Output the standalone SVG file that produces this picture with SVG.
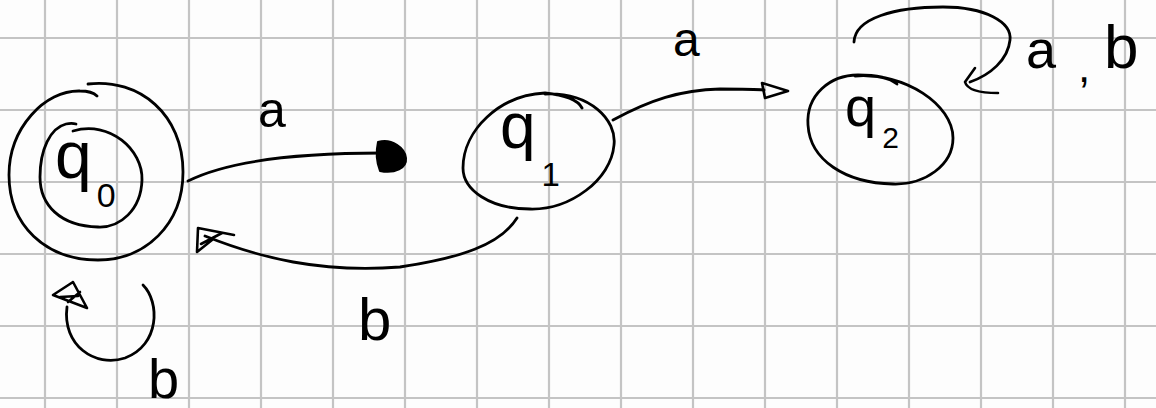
<svg xmlns="http://www.w3.org/2000/svg" width="1156" height="408" viewBox="0 0 1156 408">
  <style>
    .grid line { stroke: #c4c4c4; stroke-width: 2.2; }
    .ink { fill: none; stroke: #000; stroke-width: 2.8; stroke-linecap: round; stroke-linejoin: round; }
    .head { fill: none; stroke: #000; stroke-width: 2.6; stroke-linejoin: round; stroke-linecap: round; }
    .solid { fill: #000; stroke: #000; stroke-width: 2; stroke-linejoin: round; }
    .lbl { font-family: "Liberation Sans", "DejaVu Sans", sans-serif; fill: #000; }
  </style>

  <rect width="1156" height="408" fill="#fdfdfd"/>

  <!-- squared paper -->
  <g class="grid">
    <line x1="45" y1="0" x2="45" y2="408"/>
    <line x1="117" y1="0" x2="117" y2="408"/>
    <line x1="189" y1="0" x2="189" y2="408"/>
    <line x1="261" y1="0" x2="261" y2="408"/>
    <line x1="333" y1="0" x2="333" y2="408"/>
    <line x1="405" y1="0" x2="405" y2="408"/>
    <line x1="477" y1="0" x2="477" y2="408"/>
    <line x1="549" y1="0" x2="549" y2="408"/>
    <line x1="621" y1="0" x2="621" y2="408"/>
    <line x1="693" y1="0" x2="693" y2="408"/>
    <line x1="765" y1="0" x2="765" y2="408"/>
    <line x1="837" y1="0" x2="837" y2="408"/>
    <line x1="909" y1="0" x2="909" y2="408"/>
    <line x1="981" y1="0" x2="981" y2="408"/>
    <line x1="1053" y1="0" x2="1053" y2="408"/>
    <line x1="1125" y1="0" x2="1125" y2="408"/>
    <line x1="0" y1="38" x2="1156" y2="38"/>
    <line x1="0" y1="110" x2="1156" y2="110"/>
    <line x1="0" y1="182" x2="1156" y2="182"/>
    <line x1="0" y1="254" x2="1156" y2="254"/>
    <line x1="0" y1="326" x2="1156" y2="326"/>
    <line x1="0" y1="398" x2="1156" y2="398"/>
  </g>

  <!-- transitions -->
  <g id="edges">
    <!-- q0 -a-> q1 -->
    <path class="ink" d="M 188 181 C 230 160, 300 153, 382 153"/>
    <path class="solid" d="M 378 142 C 392 138, 405 148, 406 158 C 407 168, 395 174, 380 171 C 376 161, 376 151, 378 142 Z"/>
    <text class="lbl" x="258" y="127" font-size="50">a</text>

    <!-- q1 -b-> q0 -->
    <path class="ink" d="M 517 218 C 500 245, 460 258, 400 267 C 320 273, 260 258, 205 236"/>
    <path class="head" d="M 198 228 L 234 235 M 198 228 L 197 252 L 212 240 M 201 244 L 222 233"/>
    <text class="lbl" x="358" y="340" font-size="60">b</text>

    <!-- q0 -b-> q0 -->
    <path class="ink" d="M 143 285 C 160 302, 160 345, 125 358 C 95 368, 62 345, 67 307"/>
    <path class="head" d="M 73 282 L 53 295 L 87 308 Z M 60 297 L 78 296 M 68 302 L 80 292"/>
    <text class="lbl" x="148" y="398" font-size="56">b</text>

    <!-- q1 -a-> q2 -->
    <path class="ink" d="M 613 120 C 650 100, 680 90, 720 89 C 740 89, 755 89, 764 90"/>
    <path class="head" d="M 762 83 L 788 91 L 765 98 Z"/>
    <text class="lbl" x="673" y="56" font-size="48">a</text>

    <!-- q2 -a,b-> q2 -->
    <path class="ink" d="M 854 42 C 855 18, 895 7, 943 7 C 985 7, 1012 22, 1010 40 C 1008 60, 990 75, 970 82"/>
    <path class="head" d="M 975 68 L 965 82 C 967 89, 976 93, 998 93"/>
    <text class="lbl" font-size="62" y="68"><tspan x="1026" font-size="54">a</tspan><tspan x="1078" y="82" font-size="44">,</tspan><tspan x="1104" y="68">b</tspan></text>
  </g>

  <!-- q0: start / accepting state -->
  <g id="q0">
    <path class="ink" d="M 88 84 C 140 78, 183 115, 183 172 C 183 225, 145 260, 98 260 C 45 260, 9 225, 9 175 C 9 128, 45 90, 80 91 C 88 91, 94 93, 97 96"/>
    <path class="ink" d="M 73 131 C 110 120, 143 150, 142 180 C 141 210, 120 228, 98 227 C 60 226, 40 205, 40 177 C 40 150, 50 128, 66 124 C 70 123, 73 123, 76 124"/>
    <text class="lbl" x="55" y="178" font-size="66">q<tspan font-size="34" dx="5" dy="29">0</tspan></text>
  </g>

  <!-- q1 -->
  <g id="q1">
    <path class="ink" d="M 545 94 C 590 92, 617 120, 614 145 C 611 180, 570 210, 530 209 C 490 209, 463 190, 463 168 C 463 130, 500 95, 545 93 C 565 95, 578 100, 582 108"/>
    <text class="lbl" x="500" y="148" font-size="64">q<tspan font-size="33" dx="6" dy="38">1</tspan></text>
  </g>

  <!-- q2 -->
  <g id="q2">
    <path class="ink" d="M 855 76 C 905 72, 953 105, 953 138 C 953 165, 925 185, 893 184 C 845 183, 810 160, 808 125 C 806 95, 830 75, 858 75 C 875 75, 890 78, 897 84"/>
    <text class="lbl" x="845" y="126" font-size="56">q<tspan font-size="30" dx="6" dy="22">2</tspan></text>
  </g>
</svg>
